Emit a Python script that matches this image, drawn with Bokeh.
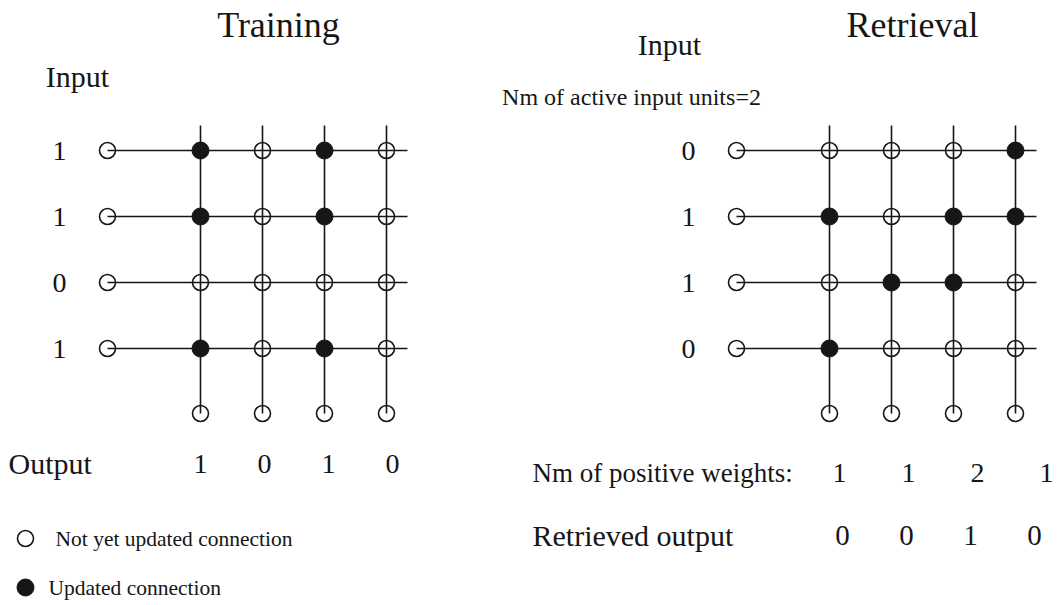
from bokeh.plotting import figure
from bokeh.models import Range1d
from bokeh.core.properties import value
from bokeh.embed import file_html
from bokeh.resources import INLINE

# ---------------- data ----------------
panel_titles = ["Training", "Retrieval"]
train_input = [1, 1, 0, 1]
train_output = [1, 0, 1, 0]
train_updated = [[1, 0, 1, 0],
                 [1, 0, 1, 0],
                 [0, 0, 0, 0],
                 [1, 0, 1, 0]]
retr_input = [0, 1, 1, 0]
retr_updated = [[0, 0, 0, 1],
                [1, 0, 1, 1],
                [0, 1, 1, 0],
                [1, 0, 0, 0]]
active_inputs = 2
positive_weights = [1, 1, 2, 1]
retrieved_output = [0, 0, 1, 0]
legend_labels = ["Not yet updated connection", "Updated connection"]

# ---------------- layout ----------------
W, H = 1062, 605
FONT = value("Liberation Serif")
INK = "#161616"
ROW_Y0, ROW_DY = 150, 66
COL_DX = 62
VTOP, OUT_Y = 125, 413
LW = 1.6
DOT = 16

p = figure(width=W, height=H, x_range=Range1d(0, W), y_range=Range1d(H, 0),
           output_backend="svg", toolbar_location=None, min_border=0,
           x_axis_type=None, y_axis_type=None)
p.grid.visible = False
p.outline_line_color = None
p.background_fill_color = "white"
p.border_fill_color = "white"


def txt(x, y, texts, size, align="center"):
    p.text(x=x, y=y, text=texts, text_font=FONT, text_font_size=f"{size}px",
           text_align=align, text_baseline="middle", text_color=INK)


def panel(xin, inputs, updated, row_label_size):
    n_rows, n_cols = len(inputs), len(updated[0])
    rows_y = [ROW_Y0 + i * ROW_DY for i in range(n_rows)]
    cols_x = [xin + 93 + j * COL_DX for j in range(n_cols)]
    xend = xin + 300
    # lines
    p.segment(x0=[xin] * n_rows, y0=rows_y, x1=[xend] * n_rows, y1=rows_y,
              line_color=INK, line_width=LW)
    p.segment(x0=cols_x, y0=[VTOP] * n_cols, x1=cols_x, y1=[OUT_Y] * n_cols,
              line_color=INK, line_width=LW)
    # input / output unit circles
    p.scatter(x=[xin] * n_rows, y=rows_y, size=DOT, marker="circle",
              fill_alpha=0, line_color=INK, line_width=LW)
    p.scatter(x=cols_x, y=[OUT_Y] * n_cols, size=DOT, marker="circle",
              fill_alpha=0, line_color=INK, line_width=LW)
    # connections
    ox, oy, fx, fy = [], [], [], []
    for i in range(n_rows):
        for j in range(n_cols):
            if updated[i][j]:
                fx.append(cols_x[j]); fy.append(rows_y[i])
            else:
                ox.append(cols_x[j]); oy.append(rows_y[i])
    p.scatter(x=ox, y=oy, size=DOT, marker="circle", fill_alpha=0,
              line_color=INK, line_width=LW)
    p.scatter(x=fx, y=fy, size=DOT + 1, marker="circle", fill_color=INK,
              line_color=INK, line_width=1)
    # row labels
    txt([xin - 48] * n_rows, rows_y, [str(v) for v in inputs], row_label_size)
    return cols_x


# ---- Training panel ----
txt([278], [24], [panel_titles[0]], 36)
txt([77], [76], ["Input"], 30)
panel(107, train_input, train_updated, 28)
txt([8], [463], ["Output"], 30, align="left")
txt([200 + j * 64 for j in range(len(train_output))], [463] * len(train_output),
    [str(v) for v in train_output], 28)

# legend
p.scatter(x=[25], y=[538], size=DOT, marker="circle", fill_alpha=0,
          line_color=INK, line_width=LW)
p.scatter(x=[25], y=[587], size=DOT + 1, marker="circle", fill_color=INK,
          line_color=INK)
txt([55], [538], [legend_labels[0]], 21.5, align="left")
txt([48], [587], [legend_labels[1]], 21.5, align="left")

# ---- Retrieval panel ----
txt([912], [24], [panel_titles[1]], 36)
txt([669], [44], ["Input"], 30)
txt([631], [96], [f"Nm of active input units={active_inputs}"], 24)
panel(736, retr_input, retr_updated, 28)
txt([532], [472], ["Nm of positive weights:"], 27, align="left")
txt([839 + j * 69 for j in range(len(positive_weights))], [472] * len(positive_weights),
    [str(v) for v in positive_weights], 28)
txt([532], [535], ["Retrieved output"], 30, align="left")
txt([842 + j * 64 for j in range(len(retrieved_output))], [535] * len(retrieved_output),
    [str(v) for v in retrieved_output], 29)

open("out.html", "w").write(file_html(p, INLINE))
